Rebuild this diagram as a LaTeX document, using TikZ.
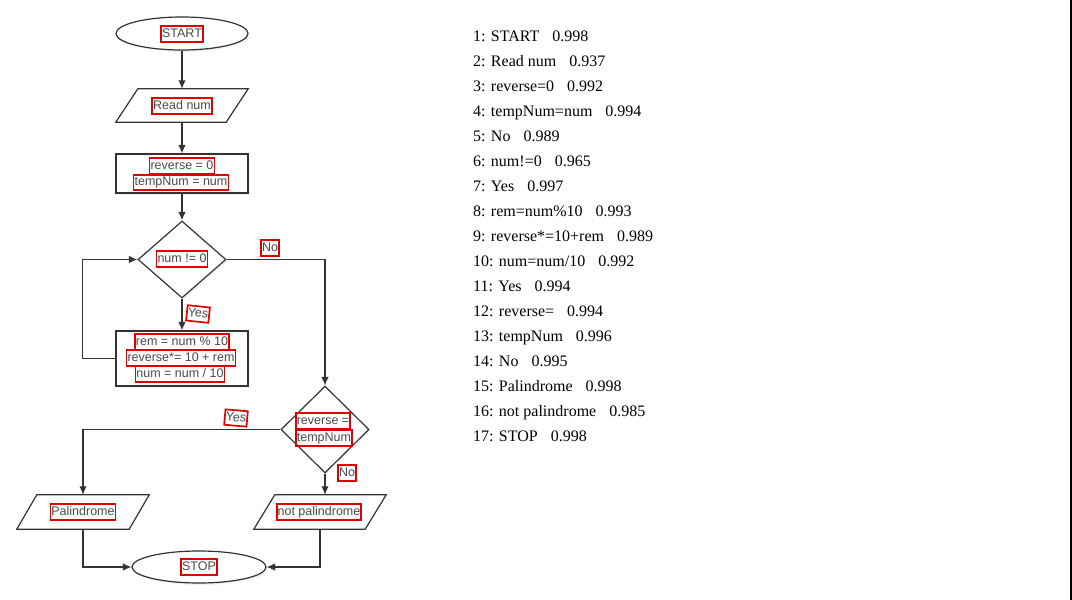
\documentclass[tikz,border=0pt]{standalone}
\usepackage{fontspec}
\setmainfont{Liberation Serif}
\newfontfamily\flowfont{Liberation Sans}
\usetikzlibrary{shapes.geometric,arrows.meta,shadows}
\definecolor{linec}{HTML}{333333}
\definecolor{txtc}{HTML}{4A4A4A}
\definecolor{ocr}{HTML}{E00000}
\newcommand\drawpgram[2]{%
  \fill[black,opacity=0.10,xshift=2pt,yshift=-2pt] ([xshift=#2]#1.north west) -- (#1.north east) -- ([xshift=-#2]#1.south east) -- (#1.south west) -- cycle;
  \draw[draw=linec,line width=1.2pt,fill=white] ([xshift=#2]#1.north west) -- (#1.north east) -- ([xshift=-#2]#1.south east) -- (#1.south west) -- cycle;}
\begin{document}
\begin{tikzpicture}[x=1pt,y=-1pt,
 shapebox/.style={draw=linec,line width=1.2pt,fill=white,inner sep=0pt,
   drop shadow={shadow xshift=2pt,shadow yshift=-2pt,opacity=0.10}},
 term/.style={shapebox,ellipse},
 procbox/.style={shapebox,rectangle},
 decbox/.style={shapebox,diamond},
 iobox/.style={rectangle,inner sep=0pt},
 ocrtxt/.style={draw=ocr,line width=1.7pt,inner xsep=1pt,inner ysep=1.8pt,font=\flowfont\fontsize{12.5}{14}\selectfont,
   text=txtc,text height=9.2pt,text depth=2.6pt},
 flow/.style={draw=linec,line width=1.2pt},
 arr/.style={flow,-{Latex[length=8.5pt,width=7.5pt]}},
 listtxt/.style={anchor=base west,inner sep=0pt,font=\fontsize{16}{19}\selectfont}
]
\useasboundingbox[fill=white] (0,0) rectangle (1072,600);

% shapes
\node[term,minimum width=132pt,minimum height=33pt] (start) at (182,33.5) {};
\node[iobox,minimum width=132pt,minimum height=33pt] (read) at (182,105.5) {};
\drawpgram{read}{22pt}
\node[procbox,minimum width=132pt,minimum height=39pt] (init) at (182,173.5) {};
\node[decbox,minimum width=88pt,minimum height=77pt] (d1) at (182,259.5) {};
\node[procbox,minimum width=132pt,minimum height=55pt] (body) at (182,358.5) {};
\node[decbox,minimum width=88pt,minimum height=87pt] (d2) at (325,429.5) {};
\node[iobox,minimum width=132pt,minimum height=34pt] (pal) at (83,512) {};
\drawpgram{pal}{20pt}
\node[iobox,minimum width=132pt,minimum height=34pt] (npal) at (320,512) {};
\drawpgram{npal}{21pt}
\node[term,minimum width=134pt,minimum height=32pt] (stop) at (199,567) {};

% connectors
\draw[arr] (start) -- (read);
\draw[arr] (read) -- (init);
\draw[arr] (init) -- (d1);
\draw[arr] (d1) -- (body);
\draw[arr] (body.west) -- ++(-33,0) |- (d1.west);
\draw[arr] (d1.east) -| (d2.north);
\draw[arr] (d2.west) -| (pal);
\draw[arr] (d2.south) -- (d2.south |- npal.north);
\draw[arr] (pal) |- (stop);
\draw[arr] (npal) |- (stop);

% texts with OCR boxes
\node[ocrtxt] (tstart) at (182,34) {START};
\node[ocrtxt] (tread) at (182,106) {Read num};
\node[ocrtxt] (tinit1) at (182,166) {reverse = 0};
\node[ocrtxt] (tinit2) at (181,182.5) {tempNum = num};
\node[ocrtxt] (td1) at (182,259) {num != 0};
\node[ocrtxt] (tno1) at (270,248) {No};
\node[ocrtxt,rotate=-6] (tyes1) at (198,314) {Yes};
\node[ocrtxt] (tb1) at (182,342) {rem = num \% 10};
\node[ocrtxt] (tb2) at (181,358) {reverse*= 10 + rem};
\node[ocrtxt] (tb3) at (180,374) {num = num / 10};
\node[ocrtxt,rotate=-5] (tyes2) at (236,418) {Yes};
\node[ocrtxt] (td2a) at (323,421) {reverse =};
\node[ocrtxt] (td2b) at (324,438) {tempNum};
\node[ocrtxt] (tno2) at (347,473) {No};
\node[ocrtxt] (tpal) at (83,512) {Palindrome};
\node[ocrtxt] (tnpal) at (319,512) {not palindrome};
\node[ocrtxt] (tstop) at (199,567) {STOP};

% result list
\node[listtxt] (l1) at (473,41.5) {1: START\hspace{13pt}0.998};
\node[listtxt] (l2) at (473,66.5) {2: Read num\hspace{13pt}0.937};
\node[listtxt] (l3) at (473,91.5) {3: reverse=0\hspace{13pt}0.992};
\node[listtxt] (l4) at (473,116.5) {4: tempNum=num\hspace{13pt}0.994};
\node[listtxt] (l5) at (473,141.5) {5: No\hspace{13pt}0.989};
\node[listtxt] (l6) at (473,166.5) {6: num!=0\hspace{13pt}0.965};
\node[listtxt] (l7) at (473,191.5) {7: Yes\hspace{13pt}0.997};
\node[listtxt] (l8) at (473,216.5) {8: rem=num\%10\hspace{13pt}0.993};
\node[listtxt] (l9) at (473,241.5) {9: reverse*=10+rem\hspace{13pt}0.989};
\node[listtxt] (l10) at (473,266.5) {10: num=num/10\hspace{13pt}0.992};
\node[listtxt] (l11) at (473,291.5) {11: Yes\hspace{13pt}0.994};
\node[listtxt] (l12) at (473,316.5) {12: reverse=\hspace{13pt}0.994};
\node[listtxt] (l13) at (473,341.5) {13: tempNum\hspace{13pt}0.996};
\node[listtxt] (l14) at (473,366.5) {14: No\hspace{13pt}0.995};
\node[listtxt] (l15) at (473,391.5) {15: Palindrome\hspace{13pt}0.998};
\node[listtxt] (l16) at (473,416.5) {16: not palindrome\hspace{13pt}0.985};
\node[listtxt] (l17) at (473,441.5) {17: STOP\hspace{13pt}0.998};

% right border line
\draw[black,line width=1.5pt] (1071.2,0) -- (1071.2,600);
\end{tikzpicture}
\end{document}
